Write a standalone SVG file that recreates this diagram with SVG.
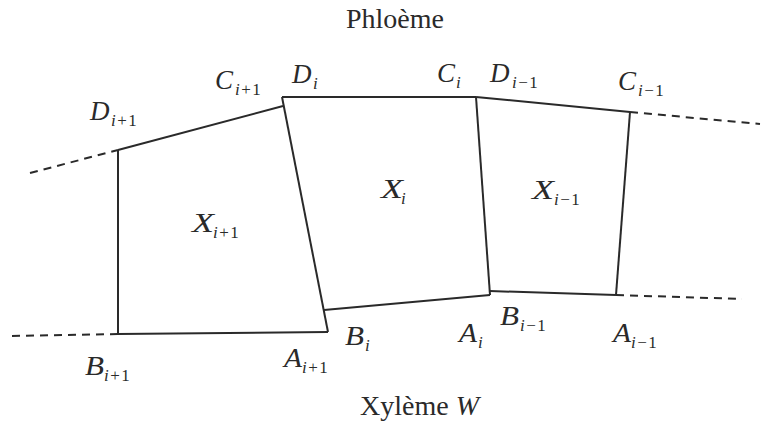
<svg xmlns="http://www.w3.org/2000/svg" width="765" height="421" viewBox="0 0 765 421" font-family="'Liberation Serif', 'Times New Roman', Times, 'DejaVu Serif', serif">
<style>
.e{stroke:#2a2a2a;stroke-width:2;fill:none;stroke-linecap:butt}
.d{stroke:#2a2a2a;stroke-width:2;fill:none;stroke-dasharray:8 6}
text{font-family:'Liberation Serif','Times New Roman',Times,'DejaVu Serif',serif;fill:#2a2a2a}
.m{font-size:27px;font-style:italic}
.s{font-size:17px}
.v{font-style:italic}
.t{font-size:28px}
</style>
<rect width="765" height="421" fill="#fff"/>
<g id="edges">
<line class="d" x1="30" y1="173" x2="118" y2="150"/>
<line class="d" x1="12" y1="336" x2="118" y2="334"/>
<line class="d" x1="630" y1="112" x2="760" y2="124"/>
<line class="d" x1="616" y1="295" x2="742" y2="299"/>
<line class="e" x1="118" y1="150" x2="283" y2="106"/>
<line class="e" x1="118" y1="150" x2="118" y2="334"/>
<line class="e" x1="118" y1="334" x2="328" y2="332"/>
<line class="e" x1="282" y1="97" x2="328" y2="332"/>
<line class="e" x1="282" y1="97" x2="476" y2="97"/>
<line class="e" x1="476" y1="97" x2="490" y2="295"/>
<line class="e" x1="324" y1="310" x2="490" y2="295"/>
<line class="e" x1="476" y1="97" x2="630" y2="112"/>
<line class="e" x1="630" y1="112" x2="616" y2="295"/>
<line class="e" x1="490" y1="291" x2="616" y2="295"/>
</g>
<g id="titles">
<text class="t" x="395" y="28" text-anchor="middle">Phloème</text>
<text class="t" x="360" y="415">Xylème <tspan class="v">W</tspan></text>
</g>
<g id="X_ip1"><text class="m" x="192" y="232" textLength="22" lengthAdjust="spacingAndGlyphs">X</text><text class="s" x="213" y="238" letter-spacing="1.5"><tspan class="v">i</tspan>+1</text></g>
<g id="X_i"><text class="m" x="381" y="198" textLength="22" lengthAdjust="spacingAndGlyphs">X</text><text class="s" x="401" y="204"><tspan class="v">i</tspan></text></g>
<g id="X_im1"><text class="m" x="532" y="199" textLength="22" lengthAdjust="spacingAndGlyphs">X</text><text class="s" x="554" y="205" letter-spacing="1.5"><tspan class="v">i</tspan>−1</text></g>
<g id="D_ip1"><text class="m" x="90" y="120">D</text><text class="s" x="111" y="126" letter-spacing="1.5"><tspan class="v">i</tspan>+1</text></g>
<g id="C_ip1"><text class="m" x="215" y="89">C</text><text class="s" x="235" y="95" letter-spacing="1.5"><tspan class="v">i</tspan>+1</text></g>
<g id="D_i"><text class="m" x="292" y="83">D</text><text class="s" x="313" y="89"><tspan class="v">i</tspan></text></g>
<g id="C_i"><text class="m" x="437" y="82">C</text><text class="s" x="456" y="88"><tspan class="v">i</tspan></text></g>
<g id="D_im1"><text class="m" x="490" y="82">D</text><text class="s" x="512" y="88" letter-spacing="1.5"><tspan class="v">i</tspan>−1</text></g>
<g id="C_im1"><text class="m" x="618" y="90">C</text><text class="s" x="638" y="96" letter-spacing="1.5"><tspan class="v">i</tspan>−1</text></g>
<g id="B_ip1"><text class="m" x="85" y="375" textLength="19" lengthAdjust="spacingAndGlyphs">B</text><text class="s" x="104" y="381" letter-spacing="1.5"><tspan class="v">i</tspan>+1</text></g>
<g id="A_ip1"><text class="m" x="284" y="367" textLength="18" lengthAdjust="spacingAndGlyphs">A</text><text class="s" x="302" y="373" letter-spacing="1.5"><tspan class="v">i</tspan>+1</text></g>
<g id="B_i"><text class="m" x="345" y="345" textLength="19" lengthAdjust="spacingAndGlyphs">B</text><text class="s" x="365" y="351"><tspan class="v">i</tspan></text></g>
<g id="A_i"><text class="m" x="459" y="342" textLength="18" lengthAdjust="spacingAndGlyphs">A</text><text class="s" x="478" y="348"><tspan class="v">i</tspan></text></g>
<g id="B_im1"><text class="m" x="500" y="325" textLength="19" lengthAdjust="spacingAndGlyphs">B</text><text class="s" x="520" y="331" letter-spacing="1.5"><tspan class="v">i</tspan>−1</text></g>
<g id="A_im1"><text class="m" x="613" y="342" textLength="18" lengthAdjust="spacingAndGlyphs">A</text><text class="s" x="631" y="348" letter-spacing="1.5"><tspan class="v">i</tspan>−1</text></g>
</svg>
